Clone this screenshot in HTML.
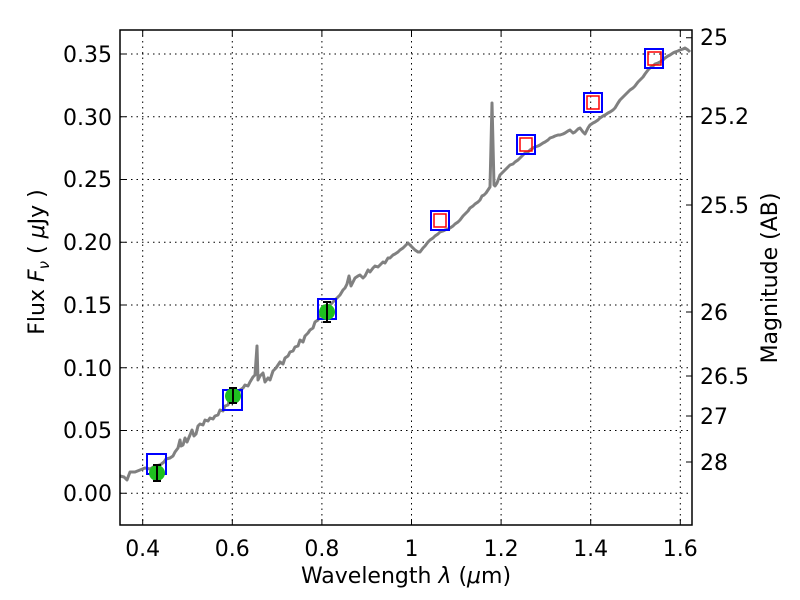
<!DOCTYPE html>
<html><head><style>body{margin:0;background:#fff}svg{display:block}text{font-family:"DejaVu Sans","Liberation Sans",sans-serif;font-size:22px;fill:#000}</style></head><body>
<svg width="800" height="600" xmlns="http://www.w3.org/2000/svg">
<g stroke="#000" stroke-width="1" stroke-dasharray="1.5,4" fill="none">
<line x1="142.7" y1="30" x2="142.7" y2="525"/><line x1="232.3" y1="30" x2="232.3" y2="525"/><line x1="321.9" y1="30" x2="321.9" y2="525"/><line x1="411.5" y1="30" x2="411.5" y2="525"/><line x1="501.1" y1="30" x2="501.1" y2="525"/><line x1="590.7" y1="30" x2="590.7" y2="525"/><line x1="680.3" y1="30" x2="680.3" y2="525"/>
<line x1="120" y1="493.3" x2="692" y2="493.3"/><line x1="120" y1="430.5" x2="692" y2="430.5"/><line x1="120" y1="367.8" x2="692" y2="367.8"/><line x1="120" y1="305" x2="692" y2="305"/><line x1="120" y1="242.3" x2="692" y2="242.3"/><line x1="120" y1="179.5" x2="692" y2="179.5"/><line x1="120" y1="116.8" x2="692" y2="116.8"/><line x1="120" y1="54" x2="692" y2="54"/>
</g>
<polyline fill="none" stroke="#808080" stroke-width="3" stroke-linejoin="round" points="120,476 124,477 127,480 130,472 135,472 140,470 145,468 150,469 155,466 160,465 164,462 166,459 170,458 173,456 175,452 178,448 180,440 181,446 183,445 185,438 187,442 190,435 192,430 194,436 196,434 198,426 200,424 203,425 205,420 208,421 210,418 213,419 215,416 218,415 220,410 223,411 225,406 228,405 230,398 233,400 236,392 238,394 240,390 243,388 245,385 248,386 250,382 253,377 255,375 257,346 258,380 260,376 263,373 265,382 268,378 270,380 273,371 276,368 280,362 283,364 285,358 288,356 290,352 293,351 295,347 298,346 300,340 303,342 305,336 308,333 310,330 313,328 315,322 318,320 320,315 323,314 325,310 328,307 330,305 333,302 335,300 338,297 340,295 343,290 345,288 347,284 349,276 351,286 355,278 358,276 360,275 363,278 365,276 368,270 370,272 373,268 375,266 378,267 380,265 383,262 385,263 388,258 390,258 393,255 395,254 398,252 400,250 403,248 405,246 408,243 410,245 413,248 415,250 418,252 420,252 423,248 425,246 428,242 430,240 433,238 435,236 438,234 440,232 443,231 445,230 448,229 450,228 453,226 455,224 458,222 460,220 463,216 465,214 468,211 470,208 473,206 475,204 478,202 480,200 482,196 484,195 486,193 488,190 490,187 492,103 494,185 495,186 497,183 500,175 502,173 505,170 508,167 510,165 513,164 515,162 518,160 520,158 523,155 525,153 528,152 530,150 533,148 535,147 538,146 540,145 543,143 545,142 548,140 550,138 553,137 555,136 558,135 560,135 563,134 565,133 568,131 570,130 573,133 575,132 578,129 580,128 583,132 585,134 588,128 590,125 593,123 595,122 598,120 600,118 603,116 605,115 608,113 610,112 613,110 615,108 618,103 620,100 623,97 625,95 628,92 630,90 633,88 635,86 638,82 640,80 643,77 645,74 648,70 650,68 653,66 655,64 658,63 660,62 663,60 665,58 668,56 670,55 673,53 675,52 678,51 680,50 683,49 685,48 688,50 690,52"/>
<g fill="none" stroke="#0000ff" stroke-width="2">
<rect x="147" y="454" width="19" height="20"/><rect x="223" y="390" width="19" height="20"/><rect x="318" y="299" width="18" height="20"/><rect x="431" y="211" width="18" height="19"/><rect x="517" y="135" width="18" height="19"/><rect x="584" y="93" width="18" height="19"/><rect x="645" y="49" width="18" height="19"/>
</g>
<g fill="none" stroke="#ff0000" stroke-width="1.5">
<rect x="434" y="214" width="12" height="13"/><rect x="520" y="138" width="12" height="13"/><rect x="587" y="96" width="12" height="13"/><rect x="648" y="52" width="13" height="13"/>
</g>
<g fill="#1fbf1f"><circle cx="157" cy="473" r="8"/><circle cx="233" cy="396" r="8"/><circle cx="327" cy="312" r="8"/></g>
<g stroke="#000" stroke-width="2"><path d="M157,465V481M153,465h8M153,481h8M233,388V403M229,388h8M229,403h8M327,302V322M323,302h8M323,322h8"/></g>
<rect x="120" y="30" width="572" height="495" fill="none" stroke="#000" stroke-width="1.5"/>
<g stroke="#000" stroke-width="1">
<path d="M142.7,525v-6M232.3,525v-6M321.9,525v-6M411.5,525v-6M501.1,525v-6M590.7,525v-6M680.3,525v-6M142.7,30v6M232.3,30v6M321.9,30v6M411.5,30v6M501.1,30v6M590.7,30v6M680.3,30v6"/>
<path d="M120,493.3h6M120,430.5h6M120,367.8h6M120,305h6M120,242.3h6M120,179.5h6M120,116.8h6M120,54h6"/>
<path d="M692,37.7h-6M692,116.8h-6M692,205h-6M692,312h-6M692,376h-6M692,416h-6M692,462h-6"/>
</g>
<g text-anchor="middle">
<text x="142.7" y="556">0.4</text><text x="232.3" y="556">0.6</text><text x="321.9" y="556">0.8</text><text x="411.5" y="556">1</text><text x="501.1" y="556">1.2</text><text x="590.7" y="556">1.4</text><text x="680.3" y="556">1.6</text>
</g>
<g text-anchor="end">
<text x="112" y="501">0.00</text><text x="112" y="438">0.05</text><text x="112" y="376">0.10</text><text x="112" y="313">0.15</text><text x="112" y="250">0.20</text><text x="112" y="187">0.25</text><text x="112" y="125">0.30</text><text x="112" y="62">0.35</text>
</g>
<g>
<text x="700" y="45">25</text><text x="700" y="124">25.2</text><text x="700" y="213">25.5</text><text x="700" y="320">26</text><text x="700" y="384">26.5</text><text x="700" y="424">27</text><text x="700" y="470">28</text>
</g>
<text x="406" y="583" text-anchor="middle">Wavelength  <tspan font-style="italic">λ</tspan> (<tspan font-style="italic">μ</tspan>m)</text>
<text transform="translate(44,262) rotate(-90)" text-anchor="middle">Flux  <tspan font-style="italic">F</tspan><tspan font-style="italic" font-size="15" dy="5">ν</tspan><tspan dy="-5">  ( </tspan><tspan font-style="italic">μ</tspan>Jy )</text>
<text transform="translate(777,278) rotate(-90)" text-anchor="middle">Magnitude (AB)</text>
</svg>
</body></html>
